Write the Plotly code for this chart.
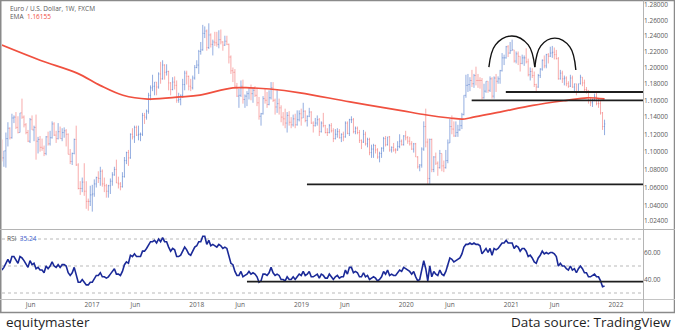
import plotly.graph_objects as go
import pandas as pd

# ---------------- data (weekly EUR/USD bars) ----------------
FIRST_WEEK = "2016-02-22"

OPEN_ = [
    1.113,1.093,1.101,1.115,1.127,1.116,1.139,1.140,1.128,1.122,1.145,1.140,1.131,1.122,1.112,1.137,1.125,1.128,1.112,1.114,1.105,1.104,1.098,1.117,1.109,1.116,1.132,1.119,1.115,1.123,1.115,1.122,1.124,1.120,1.097,1.089,1.098,1.114,1.085,1.059,1.059,1.066,1.056,1.045,1.045,
    1.052,1.053,1.064,1.071,1.070,1.078,1.064,1.062,1.056,1.062,1.067,1.074,1.080,1.065,1.064,1.061,1.072,1.090,1.099,1.093,1.120,1.117,1.128,1.119,1.120,1.120,1.142,1.140,1.147,1.166,1.175,1.177,1.182,1.176,1.192,1.186,1.203,1.194,1.195,1.181,1.173,1.182,1.178,1.160,1.161,1.166,1.179,1.193,1.189,1.177,1.175,1.187,
    1.200,1.203,1.220,1.222,1.243,1.246,1.225,1.241,1.229,1.232,1.231,1.229,1.235,1.232,1.228,1.233,1.229,1.213,1.196,1.194,1.177,1.165,1.166,1.177,1.161,1.165,1.168,1.175,1.168,1.172,1.166,1.157,1.141,1.144,1.162,1.160,1.155,1.163,1.175,1.160,1.152,1.156,1.151,1.140,1.138,1.133,1.142,1.134,1.131,1.138,1.131,1.137,
    1.144,1.139,1.147,1.136,1.141,1.146,1.133,1.130,1.133,1.137,1.123,1.133,1.130,1.122,1.122,1.130,1.124,1.115,1.120,1.123,1.116,1.120,1.117,1.133,1.121,1.137,1.137,1.123,1.127,1.122,1.113,1.111,1.120,1.109,1.114,1.099,1.103,1.107,1.102,1.094,1.098,1.104,1.115,1.108,1.117,1.102,1.105,1.102,1.102,1.106,1.112,1.108,
    1.118,1.116,1.112,1.109,1.103,1.109,1.094,1.083,1.085,1.103,1.129,1.111,1.070,1.114,1.080,1.094,1.087,1.082,1.098,1.084,1.082,1.090,1.110,1.129,1.126,1.118,1.122,1.125,1.130,1.143,1.166,1.178,1.179,1.184,1.180,1.190,1.184,1.184,1.184,1.163,1.171,1.183,1.172,1.186,1.165,1.187,1.183,1.186,1.196,1.212,1.212,1.226,
    1.218,1.221,1.222,1.208,1.217,1.214,1.205,1.212,1.212,1.207,1.191,1.195,1.190,1.179,1.176,1.190,1.198,1.209,1.202,1.216,1.214,1.218,1.219,1.216,1.211,1.186,1.193,1.186,1.187,1.180,1.177,1.187,1.176,1.180,1.170,1.180,1.188,1.181,1.173,1.172,1.160,1.157,1.160,1.164,1.156,1.156,1.145,1.129,
]
HIGH = [
    1.114,1.101,1.122,1.134,1.128,1.144,1.142,1.146,1.141,1.145,1.162,1.142,1.133,1.125,1.139,1.142,1.130,1.143,1.117,1.118,1.115,1.107,1.118,1.123,1.124,1.135,1.134,1.124,1.133,1.129,1.127,1.128,1.126,1.121,1.103,1.099,1.115,1.130,1.087,1.067,1.071,1.087,1.067,1.048,1.062,
    1.063,1.069,1.072,1.078,1.083,1.080,1.071,1.064,1.063,1.070,1.077,1.083,1.091,1.072,1.066,1.077,1.094,1.100,1.102,1.121,1.127,1.130,1.130,1.130,1.122,1.145,1.145,1.149,1.169,1.178,1.191,1.182,1.182,1.194,1.207,1.209,1.204,1.204,1.196,1.182,1.188,1.189,1.184,1.169,1.167,1.186,1.196,1.196,1.190,1.186,1.190,1.203,
    1.209,1.222,1.232,1.254,1.252,1.248,1.256,1.243,1.235,1.245,1.245,1.247,1.248,1.233,1.240,1.240,1.230,1.215,1.200,1.198,1.181,1.174,1.184,1.185,1.167,1.171,1.176,1.179,1.175,1.177,1.175,1.164,1.145,1.165,1.174,1.170,1.172,1.182,1.182,1.162,1.172,1.162,1.154,1.146,1.150,1.146,1.147,1.140,1.143,1.144,1.148,1.148,
    1.150,1.157,1.148,1.142,1.151,1.147,1.135,1.139,1.142,1.139,1.135,1.145,1.131,1.127,1.132,1.133,1.127,1.126,1.127,1.126,1.121,1.123,1.135,1.135,1.138,1.141,1.139,1.129,1.129,1.125,1.114,1.125,1.123,1.116,1.116,1.108,1.109,1.108,1.104,1.100,1.105,1.117,1.118,1.117,1.118,1.106,1.110,1.104,1.112,1.120,1.114,1.119,
    1.124,1.118,1.117,1.112,1.110,1.110,1.095,1.086,1.105,1.135,1.150,1.115,1.115,1.115,1.095,1.099,1.089,1.102,1.098,1.090,1.102,1.114,1.138,1.142,1.135,1.135,1.131,1.137,1.145,1.166,1.191,1.192,1.188,1.197,1.192,1.201,1.192,1.188,1.187,1.180,1.183,1.183,1.189,1.188,1.189,1.192,1.189,1.197,1.218,1.216,1.227,1.228,
    1.232,1.235,1.222,1.220,1.220,1.214,1.216,1.215,1.224,1.211,1.200,1.199,1.195,1.180,1.192,1.199,1.210,1.215,1.217,1.218,1.226,1.227,1.225,1.222,1.213,1.197,1.196,1.190,1.189,1.183,1.191,1.190,1.180,1.180,1.180,1.191,1.188,1.185,1.176,1.172,1.164,1.162,1.168,1.169,1.162,1.160,1.146,1.137,
]
LOW = [
    1.089,1.083,1.082,1.106,1.114,1.115,1.133,1.126,1.121,1.122,1.138,1.128,1.120,1.111,1.110,1.125,1.112,1.091,1.098,1.100,1.101,1.095,1.096,1.107,1.107,1.115,1.118,1.110,1.114,1.115,1.112,1.116,1.106,1.097,1.086,1.085,1.097,1.084,1.058,1.052,1.055,1.051,1.037,1.035,1.040,
    1.034,1.050,1.060,1.065,1.062,1.061,1.055,1.049,1.049,1.053,1.062,1.073,1.065,1.059,1.057,1.060,1.071,1.086,1.084,1.092,1.114,1.110,1.118,1.113,1.112,1.118,1.132,1.137,1.144,1.160,1.171,1.166,1.166,1.174,1.180,1.185,1.185,1.190,1.172,1.166,1.172,1.173,1.157,1.157,1.154,1.163,1.172,1.179,1.172,1.171,1.173,1.185,
    1.199,1.192,1.216,1.221,1.237,1.221,1.223,1.225,1.215,1.227,1.226,1.224,1.229,1.221,1.227,1.228,1.205,1.192,1.182,1.175,1.164,1.151,1.164,1.156,1.151,1.153,1.161,1.160,1.157,1.164,1.153,1.137,1.130,1.143,1.156,1.151,1.154,1.161,1.158,1.143,1.145,1.143,1.134,1.130,1.127,1.122,1.130,1.127,1.129,1.127,1.130,1.135,
    1.130,1.139,1.134,1.129,1.140,1.132,1.122,1.129,1.130,1.118,1.122,1.128,1.121,1.118,1.121,1.122,1.111,1.114,1.116,1.115,1.111,1.112,1.116,1.120,1.118,1.133,1.121,1.120,1.120,1.110,1.103,1.110,1.107,1.105,1.096,1.093,1.093,1.098,1.092,1.088,1.093,1.100,1.106,1.107,1.100,1.099,1.100,1.098,1.101,1.104,1.107,1.107,
    1.113,1.109,1.107,1.102,1.099,1.094,1.081,1.078,1.082,1.101,1.105,1.064,1.064,1.077,1.077,1.085,1.073,1.081,1.078,1.077,1.081,1.087,1.110,1.120,1.117,1.117,1.117,1.124,1.126,1.142,1.163,1.170,1.171,1.176,1.175,1.178,1.175,1.174,1.161,1.162,1.169,1.169,1.170,1.162,1.162,1.170,1.180,1.180,1.195,1.203,1.211,1.213,
    1.217,1.221,1.206,1.205,1.203,1.195,1.204,1.202,1.205,1.189,1.184,1.187,1.176,1.170,1.175,1.187,1.196,1.199,1.199,1.205,1.213,1.212,1.210,1.210,1.185,1.185,1.181,1.178,1.177,1.175,1.176,1.175,1.171,1.166,1.169,1.179,1.177,1.170,1.168,1.156,1.153,1.152,1.159,1.154,1.151,1.143,1.125,1.119,
]
CLOSE = [
    1.093,1.101,1.115,1.127,1.116,1.139,1.140,1.128,1.122,1.145,1.140,1.131,1.122,1.112,1.137,1.125,1.128,1.112,1.114,1.105,1.104,1.098,1.117,1.109,1.116,1.132,1.119,1.115,1.123,1.115,1.122,1.124,1.120,1.097,1.089,1.098,1.114,1.085,1.059,1.059,1.066,1.056,1.045,1.045,1.052,
    1.053,1.064,1.071,1.070,1.078,1.064,1.062,1.056,1.062,1.067,1.074,1.080,1.065,1.064,1.061,1.072,1.090,1.099,1.093,1.120,1.117,1.128,1.119,1.120,1.120,1.142,1.140,1.147,1.166,1.175,1.177,1.182,1.176,1.192,1.186,1.203,1.194,1.195,1.181,1.173,1.182,1.178,1.160,1.161,1.166,1.179,1.193,1.189,1.177,1.175,1.187,1.200,
    1.203,1.220,1.222,1.243,1.246,1.225,1.241,1.229,1.232,1.231,1.229,1.235,1.232,1.228,1.233,1.229,1.213,1.196,1.194,1.177,1.165,1.166,1.177,1.161,1.165,1.168,1.175,1.168,1.172,1.166,1.157,1.141,1.144,1.162,1.160,1.155,1.163,1.175,1.160,1.152,1.156,1.151,1.140,1.138,1.133,1.142,1.134,1.131,1.138,1.131,1.137,1.144,
    1.139,1.147,1.136,1.141,1.146,1.133,1.130,1.133,1.137,1.123,1.133,1.130,1.122,1.122,1.130,1.124,1.115,1.120,1.123,1.116,1.120,1.117,1.133,1.121,1.137,1.137,1.123,1.127,1.122,1.113,1.111,1.120,1.109,1.114,1.099,1.103,1.107,1.102,1.094,1.098,1.104,1.115,1.108,1.117,1.102,1.105,1.102,1.102,1.106,1.112,1.108,1.118,
    1.116,1.112,1.109,1.103,1.109,1.094,1.083,1.085,1.103,1.129,1.111,1.070,1.114,1.080,1.094,1.087,1.082,1.098,1.084,1.082,1.090,1.110,1.129,1.126,1.118,1.122,1.125,1.130,1.143,1.166,1.178,1.179,1.184,1.180,1.190,1.184,1.184,1.184,1.163,1.171,1.183,1.172,1.186,1.165,1.187,1.183,1.186,1.196,1.212,1.212,1.226,1.218,
    1.221,1.222,1.208,1.217,1.214,1.205,1.212,1.212,1.207,1.191,1.195,1.190,1.179,1.176,1.190,1.198,1.209,1.202,1.216,1.214,1.218,1.219,1.216,1.211,1.186,1.193,1.186,1.187,1.180,1.177,1.187,1.176,1.180,1.170,1.180,1.188,1.181,1.173,1.172,1.160,1.157,1.160,1.164,1.156,1.156,1.145,1.129,1.132,
]
RSI = [
    47,49,52,55,52,57,57,54,52,57,56,54,51,49,54,51,52,48,49,47,47,45,50,48,50,53,50,49,51,49,51,51,50,45,43,45,49,43,38,38,40,38,36,36,38,
    38,41,43,43,45,42,42,41,42,44,46,48,44,44,43,46,51,53,52,58,57,59,57,57,57,61,61,63,66,68,68,69,67,70,68,71,68,68,64,61,63,62,57,57,58,61,64,62,59,58,61,64,
    65,68,68,72,72,66,69,65,66,65,64,66,65,63,64,63,58,52,51,46,43,43,46,42,43,44,46,44,45,44,42,38,39,44,44,43,45,49,45,43,44,43,40,40,39,42,40,40,42,40,42,44,
    43,46,43,44,46,42,42,43,44,41,44,43,41,41,44,42,40,42,43,41,42,42,47,44,49,49,45,46,45,42,42,45,42,43,40,41,42,41,39,40,42,46,44,47,43,44,43,43,45,47,46,49,
    48,47,46,44,46,42,39,40,46,54,48,39,50,42,46,44,43,47,44,43,46,51,56,55,53,54,55,56,59,64,66,66,67,66,67,66,66,65,59,61,63,60,63,58,63,62,63,65,67,67,69,67,
    67,67,63,65,64,61,63,63,61,57,58,56,53,52,56,58,61,59,60,59,60,60,59,57,50,52,50,50,48,47,50,47,48,45,48,50,48,45,45,42,42,43,44,42,42,39,34.7,35.24,
]

EMA_DATES = ["2016-02-22", "2016-07-04", "2016-11-10", "2017-01-29", "2017-04-19", "2017-07-15",
             "2017-11-04", "2018-01-12", "2018-05-07", "2018-07-06", "2018-09-13", "2018-12-27",
             "2019-06-19", "2019-12-10", "2020-03-13", "2020-06-01", "2020-07-16", "2020-08-09",
             "2020-11-22", "2021-03-17", "2021-07-14", "2021-09-22", "2021-11-22"]
EMA_VALUES = [1.228, 1.209, 1.193, 1.178, 1.166, 1.1615,
              1.164, 1.1663, 1.175, 1.175, 1.1736, 1.169,
              1.158, 1.148, 1.1425, 1.139, 1.1377, 1.139,
              1.146, 1.154, 1.160, 1.163, 1.1616]
EMA_LAST = "1.16155"
RSI_LAST = "35.24"

# drawn annotations (support lines and the double-top arcs)
X_END = "2022-04-05"
SUPPORT_LEVELS = [1.0636, 1.160, 1.170]
SUPPORT_START = ["2019-01-20", "2020-08-16", "2020-12-13"]
RSI_SUPPORT = 38.4
RSI_SUPPORT_START = "2018-06-25"
RSI_BANDS = [70, 50, 30]
ARC1_X = ["2020-10-15", "2020-11-07", "2021-01-03", "2021-03-01", "2021-03-24"]
ARC1_Y = [1.2005, 1.2283, 1.2397, 1.2283, 1.2005]
ARC2_X = ["2021-03-24", "2021-04-14", "2021-06-02", "2021-07-24", "2021-08-14"]
ARC2_Y = [1.2005, 1.2271, 1.2369, 1.2258, 1.1969]

X_TICKS = ["2016-06-01", "2017-01-01", "2017-06-01", "2018-01-01", "2018-06-01", "2019-01-01",
           "2019-06-01", "2020-01-01", "2020-06-01", "2021-01-01", "2021-06-01", "2022-01-01"]
X_TICK_TEXT = ["Jun", "2017", "Jun", "2018", "Jun", "2019", "Jun", "2020", "Jun", "2021", "Jun", "2022"]
Y_TICKS = [1.28, 1.26, 1.24, 1.22, 1.20, 1.18, 1.16, 1.14, 1.12, 1.10, 1.08, 1.06, 1.04, 1.024]
RSI_TICKS = [60, 40]

# ---------------- figure ----------------
W, H = 675, 333
FONT = "Open Sans"
def px(x):
    return x / W
def py(y):
    return 1 - y / H

weeks = pd.date_range(FIRST_WEEK, periods=len(CLOSE), freq="7D")

fig = go.Figure()
fig.add_trace(go.Ohlc(
    x=weeks, open=OPEN_, high=HIGH, low=LOW, close=CLOSE,
    increasing=dict(line=dict(color="rgba(80,122,205,0.62)", width=1)),
    decreasing=dict(line=dict(color="rgba(242,104,104,0.55)", width=1)),
    tickwidth=0.35, hoverinfo="skip", xaxis="x", yaxis="y",
))
fig.add_trace(go.Scatter(
    x=EMA_DATES, y=EMA_VALUES, mode="lines",
    line=dict(color="#f0503f", width=1.7, shape="spline", smoothing=1.0),
    hoverinfo="skip", xaxis="x", yaxis="y",
))
for lvl, start in zip(SUPPORT_LEVELS, SUPPORT_START):
    fig.add_trace(go.Scatter(
        x=[start, X_END], y=[lvl, lvl], mode="lines",
        line=dict(color="#1e1e1e", width=1.8), hoverinfo="skip", xaxis="x", yaxis="y",
    ))
for ax_, ay_ in ((ARC1_X, ARC1_Y), (ARC2_X, ARC2_Y)):
    fig.add_trace(go.Scatter(
        x=ax_, y=ay_, mode="lines",
        line=dict(color="#111111", width=1.4, shape="spline", smoothing=1.1),
        hoverinfo="skip", xaxis="x", yaxis="y",
    ))
fig.add_trace(go.Scatter(
    x=weeks, y=RSI, mode="lines",
    line=dict(color="#1b2a98", width=1.6), hoverinfo="skip", xaxis="x", yaxis="y2",
))
fig.add_trace(go.Scatter(
    x=[RSI_SUPPORT_START, X_END], y=[RSI_SUPPORT, RSI_SUPPORT], mode="lines",
    line=dict(color="#1e1e1e", width=1.8), hoverinfo="skip", xaxis="x", yaxis="y2",
))

shapes = []
for b in RSI_BANDS:
    shapes.append(dict(type="line", xref="paper", yref="y2", x0=px(2), x1=px(641), y0=b, y1=b,
                       line=dict(color="#b9b9b9", width=1, dash="dot"), layer="below"))
# panel frame
shapes += [
    dict(type="rect", xref="paper", yref="paper", x0=px(0.75), x1=px(674.5), y0=py(312.5), y1=py(0.5),
         line=dict(color="#8a8a8a", width=1.5)),
    dict(type="line", xref="paper", yref="paper", x0=0, x1=1, y0=py(229.5), y1=py(229.5),
         line=dict(color="#b4b4b4", width=1)),
    dict(type="line", xref="paper", yref="paper", x0=0, x1=1, y0=py(299.5), y1=py(299.5),
         line=dict(color="#c4c4c4", width=1)),
    dict(type="line", xref="paper", yref="paper", x0=px(643.5), x1=px(643.5), y0=py(312.5), y1=py(0.5),
         line=dict(color="#b4b4b4", width=1)),
]

small = dict(family=FONT, size=6.5, color="#5a5a5a")
annotations = [
    dict(text="Euro / U.S. Dollar, 1W, FXCM", x=px(8), y=py(9), xref="paper", yref="paper",
         xanchor="left", yanchor="middle", showarrow=False, font=small),
    dict(text="EMA  <span style='color:#f0503f'>%s</span>" % EMA_LAST, x=px(8), y=py(16.5),
         xref="paper", yref="paper", xanchor="left", yanchor="middle", showarrow=False, font=small),
    dict(text="RSI  <span style='color:#3d5fd0'>%s</span>" % RSI_LAST, x=px(5), y=py(238),
         xref="paper", yref="paper", xanchor="left", yanchor="middle", showarrow=False, font=small),
    dict(text="equitymaster", x=px(4), y=py(322), xref="paper", yref="paper",
         xanchor="left", yanchor="middle", showarrow=False,
         font=dict(family=FONT, size=13.5, color="#1f1f1f")),
    dict(text="Data source: TradingView", x=px(673), y=py(322), xref="paper", yref="paper",
         xanchor="right", yanchor="middle", showarrow=False,
         font=dict(family=FONT, size=13.5, color="#1f1f1f")),
]

fig.update_layout(
    width=W, height=H, margin=dict(l=0, r=0, t=0, b=0),
    paper_bgcolor="white", plot_bgcolor="white", showlegend=False,
    font=dict(family=FONT),
    xaxis=dict(domain=[px(2), px(643)], range=["2016-02-22 09:30", X_END], anchor="y2",
               tickmode="array", tickvals=X_TICKS, ticktext=X_TICK_TEXT, tickfont=small,
               showgrid=False, zeroline=False, showline=False, ticks="",
               rangeslider=dict(visible=False), fixedrange=True),
    yaxis=dict(domain=[py(229), py(1)], type="log", range=[0.00672, 0.10900], anchor="x",
               side="right", tickmode="array", tickvals=Y_TICKS,
               ticktext=["%.5f" % v for v in Y_TICKS], tickfont=small,
               showgrid=False, zeroline=False, showline=False, ticks="", fixedrange=True),
    yaxis2=dict(domain=[py(299), py(230)], range=[25.56, 76.67], anchor="x",
                side="right", tickmode="array", tickvals=RSI_TICKS,
                ticktext=["%.2f" % v for v in RSI_TICKS], tickfont=small,
                showgrid=False, zeroline=False, showline=False, ticks="", fixedrange=True),
    shapes=shapes, annotations=annotations,
)

fig.write_html("out.html")
